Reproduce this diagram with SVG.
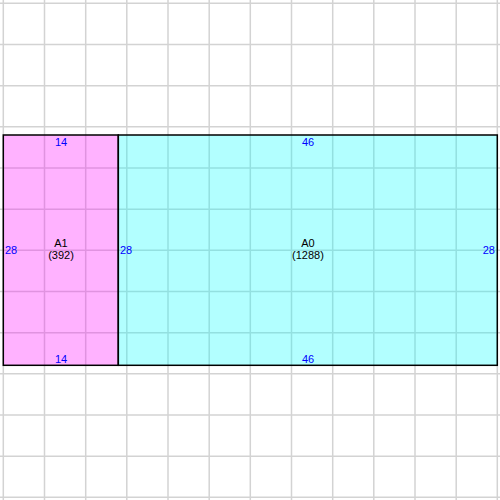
<svg xmlns="http://www.w3.org/2000/svg" width="500" height="500" viewBox="0 0 500 500">
<style>
.grid{stroke:#d3d3d3;stroke-width:1.5;fill:none}
.box{stroke:#000;stroke-width:1.5}
.dim{font-family:"Liberation Sans",Arial,sans-serif;font-size:11px;fill:#0000ff}
.lbl{font-family:"Liberation Sans",Arial,sans-serif;font-size:11px;fill:#000;text-anchor:middle}
</style>
<rect width="500" height="500" fill="#fff"/>
<g id="grid" class="grid">
<path d="M3.3,0V500M44.5,0V500M85.7,0V500M126.8,0V500M168,0V500M209.2,0V500M250.3,0V500M291.5,0V500M332.7,0V500M373.8,0V500M415,0V500M456.2,0V500M497.3,0V500"/>
<path d="M0,3.3H500M0,44.5H500M0,85.7H500M0,126.8H500M0,168H500M0,209.2H500M0,250.3H500M0,291.5H500M0,332.7H500M0,373.8H500M0,415H500M0,456.2H500M0,497.3H500"/>
</g>
<g id="A1">
<rect class="box" x="3.3" y="135" width="115" height="230.3" fill="#ff00ff" fill-opacity="0.3"/>
<text class="lbl" x="61" y="247">A1</text>
<text class="lbl" x="61" y="259">(392)</text>
<text class="dim" x="61" y="146" text-anchor="middle">14</text>
<text class="dim" x="61" y="363" text-anchor="middle">14</text>
<text class="dim" x="5" y="254">28</text>
</g>
<g id="A0">
<rect class="box" x="118.3" y="135" width="379" height="230.3" fill="#00ffff" fill-opacity="0.3"/>
<text class="lbl" x="308" y="247">A0</text>
<text class="lbl" x="308" y="259">(1288)</text>
<text class="dim" x="308" y="146" text-anchor="middle">46</text>
<text class="dim" x="308" y="363" text-anchor="middle">46</text>
<text class="dim" x="120" y="254">28</text>
<text class="dim" x="495" y="254" text-anchor="end">28</text>
</g>
<g id="connectors"/>
</svg>
